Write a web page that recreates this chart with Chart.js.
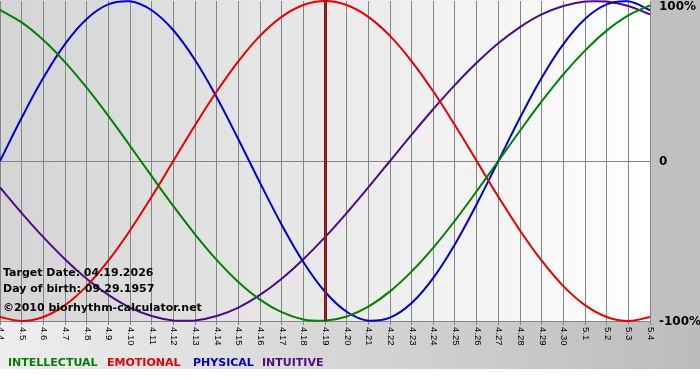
<!DOCTYPE html>
<html>
<head>
<meta charset="utf-8">
<script src="https://cdn.jsdelivr.net/npm/chart.js@4/dist/chart.umd.min.js"></script>
<style>
  html, body { margin: 0; padding: 0; background: #fff; }
</style>
</head>
<body>
<canvas id="bio" width="700" height="380"></canvas>
<script>
// days shown on the x axis (month.day)
const days = ['4.4', '4.5', '4.6', '4.7', '4.8', '4.9', '4.10', '4.11', '4.12', '4.13', '4.14',
  '4.15', '4.16', '4.17', '4.18', '4.19', '4.20', '4.21', '4.22', '4.23', '4.24', '4.25',
  '4.26', '4.27', '4.28', '4.29', '4.30', '5.1', '5.2', '5.3', '5.4'];

// cycle values in percent
const intellectual = [94.5, 86.6, 75.6, 61.8, 45.8, 28.2, 9.5, -9.5, -28.2, -45.8, -61.8, -75.6, -86.6,
  -94.5, -99.0, -99.9, -97.2, -91.0, -81.5, -69.0, -54.1, -37.2, -18.9, 0, 18.9, 37.2, 54.1, 69.0,
  81.5, 91.0, 97.2];
const emotional = [-97.5, -100, -97.5, -90.1, -78.2, -62.3, -43.4, -22.3, 0, 22.3, 43.4, 62.3, 78.2,
  90.1, 97.5, 100, 97.5, 90.1, 78.2, 62.3, 43.4, 22.3, 0, -22.3, -43.4, -62.3, -78.2, -90.1, -97.5,
  -100, -97.5];
const physical = [0, 27.0, 52.0, 73.1, 88.8, 97.9, 99.8, 94.2, 81.7, 63.1, 39.8, 13.6, -13.6, -39.8,
  -63.1, -81.7, -94.2, -99.8, -97.9, -88.8, -73.1, -52.0, -27.0, 0, 27.0, 52.0, 73.1, 88.8, 97.9,
  99.8, 94.2];
const intuitive = [-16.5, -32.5, -47.6, -61.4, -73.6, -83.7, -91.6, -96.9, -99.7, -99.7, -96.9, -91.6,
  -83.7, -73.6, -61.4, -47.6, -32.5, -16.5, 0, 16.5, 32.5, 47.6, 61.4, 73.6, 83.7, 91.6, 96.9, 99.7,
  99.7, 96.9, 91.6];

const yTicks = [100, 0, -100];
const yTickLabels = ['100%', '0', '-100%'];
const targetDay = '4.19';
const infoLines = ['Target Date: 04.19.2026', 'Day of birth: 09.29.1957', '\u00a92010 biorhythm-calculator.net'];

const seriesNames = ['INTELLECTUAL', 'EMOTIONAL', 'PHYSICAL', 'INTUITIVE'];
const seriesColors = ['#008000', '#e60000', '#0000cc', '#4f0a86'];
const legendX = [8, 107, 193, 262];

const background = {
  id: 'background',
  beforeDraw(chart) {
    const { ctx, chartArea: a, width } = chart;
    ctx.save();
    ctx.fillStyle = '#fff';
    ctx.fillRect(0, 0, width, chart.height);
    let g = ctx.createLinearGradient(0, 0, width, 0);
    g.addColorStop(0, '#eeeeee');
    g.addColorStop(1, '#bcbcbc');
    ctx.fillStyle = g;
    ctx.fillRect(0, a.bottom, width, 369 - a.bottom);
    ctx.fillStyle = '#c0c0c0';
    ctx.fillRect(a.right, 0, width - a.right, a.bottom);
    g = ctx.createLinearGradient(a.left, 0, a.right, 0);
    g.addColorStop(0, '#d4d4d4');
    g.addColorStop(1, '#ffffff');
    ctx.fillStyle = g;
    ctx.fillRect(a.left, 0, a.right - a.left, a.bottom);
    ctx.restore();
  }
};

const overlay = {
  id: 'overlay',
  afterDatasetsDraw(chart) {
    const { ctx, chartArea: a, scales: { x } } = chart;
    ctx.save();
    // target date marker
    const tx = Math.round(x.getPixelForValue(days.indexOf(targetDay))) + 0.5;
    ctx.strokeStyle = '#6e1818';
    ctx.lineWidth = 3;
    ctx.beginPath();
    ctx.moveTo(tx, 0);
    ctx.lineTo(tx, a.bottom);
    ctx.stroke();
    ctx.strokeStyle = '#a52a2a';
    ctx.lineWidth = 1;
    ctx.stroke();

    ctx.fillStyle = '#000';
    ctx.font = 'bold 11px "DejaVu Sans"';
    ctx.textBaseline = 'alphabetic';
    ctx.fillText(infoLines[0], 3, 276);
    ctx.fillText(infoLines[1], 3, 292);
    ctx.fillText(infoLines[2], 3, 311);
    ctx.restore();
  },
  afterDraw(chart) {
    const { ctx, chartArea: a, scales: { x, y } } = chart;
    ctx.save();
    // rotated day labels
    ctx.fillStyle = '#000';
    ctx.font = '9.5px "Liberation Sans"';
    ctx.textAlign = 'left';
    ctx.textBaseline = 'middle';
    days.forEach((d, i) => {
      ctx.save();
      ctx.translate(x.getPixelForValue(i) + 0.5, a.bottom + 6);
      ctx.rotate(Math.PI / 2);
      ctx.fillText(d, 0, 0);
      ctx.restore();
    });
    // percent labels on the right
    ctx.font = 'bold 12px "DejaVu Sans"';
    yTicks.forEach((v, i) => {
      const py = Math.max(y.getPixelForValue(v) + 1, 7);
      ctx.fillText(yTickLabels[i], 659, py);
    });
    // legend
    ctx.font = 'bold 11px "DejaVu Sans"';
    ctx.textBaseline = 'alphabetic';
    seriesNames.forEach((n, i) => {
      ctx.fillStyle = seriesColors[i];
      ctx.fillText(n, legendX[i], 366);
    });
    ctx.restore();
  }
};

const lineSet = (label, data, color) => ({
  label: label,
  data: data,
  borderColor: color,
  backgroundColor: color,
  borderWidth: 2,
  pointRadius: 0,
  tension: 0.4,
  fill: false,
  clip: 3
});

new Chart(document.getElementById('bio'), {
  type: 'line',
  data: {
    labels: days,
    datasets: [
      lineSet(seriesNames[0], intellectual, seriesColors[0]),
      lineSet(seriesNames[1], emotional, seriesColors[1]),
      lineSet(seriesNames[2], physical, seriesColors[2]),
      lineSet(seriesNames[3], intuitive, seriesColors[3])
    ]
  },
  options: {
    responsive: false,
    animation: false,
    devicePixelRatio: 1,
    layout: { padding: { top: 1, left: 0, right: 0, bottom: 0 } },
    plugins: {
      legend: { display: false },
      tooltip: { enabled: false }
    },
    scales: {
      x: {
        offset: false,
        ticks: { display: false, autoSkip: false },
        grid: { color: '#858585', lineWidth: 1, drawTicks: true, tickLength: 4 },
        border: { color: '#858585' },
        afterFit(scale) { scale.height = 59; }
      },
      y: {
        position: 'right',
        min: -100,
        max: 100,
        ticks: { display: false, stepSize: 100 },
        grid: {
          drawTicks: false,
          color: (c) => (c.tick && c.tick.value === 0 ? '#858585' : 'rgba(0,0,0,0)')
        },
        border: { color: '#858585' },
        afterFit(scale) { scale.width = 50; }
      }
    }
  },
  plugins: [background, overlay]
});
</script>
</body>
</html>
